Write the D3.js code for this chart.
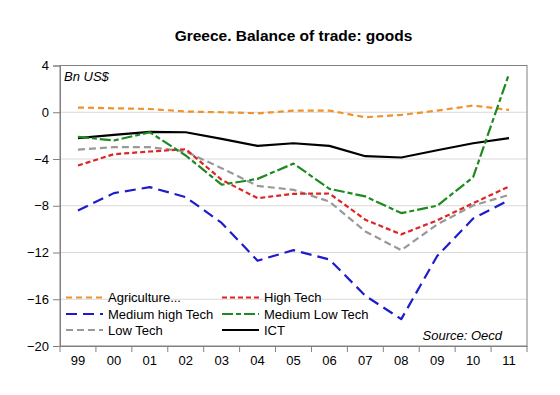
<!DOCTYPE html>
<html><head><meta charset="utf-8">
<script src="https://cdn.jsdelivr.net/npm/d3@7"></script>
<style>body{margin:0;background:#fff;}svg{display:block;font-family:Arial,"Liberation Sans",sans-serif;}</style>
</head><body>
<svg id="c" width="560" height="395"></svg>
<script>
const years = ["99","00","01","02","03","04","05","06","07","08","09","10","11"];
const yTicks = [4,0,-4,-8,-12,-16,-20];
const agriculture = [0.4,0.34,0.28,0.06,0.0,-0.09,0.14,0.14,-0.43,-0.23,0.14,0.57,0.2];
const highTech = [-4.56,-3.59,-3.36,-3.16,-5.78,-7.35,-6.98,-6.95,-9.2,-10.45,-9.25,-7.78,-6.35];
const mediumHighTech = [-8.4,-6.92,-6.41,-7.26,-9.47,-12.7,-11.8,-12.6,-15.7,-17.7,-12.3,-9.1,-7.52];
const mediumLowTech = [-2.1,-2.42,-1.71,-3.7,-6.2,-5.7,-4.39,-6.55,-7.2,-8.63,-8.0,-5.56,3.28];
const lowTech = [-3.19,-2.99,-2.99,-3.36,-4.79,-6.3,-6.64,-7.64,-10.2,-11.8,-9.6,-7.98,-7.07];
const ict = [-2.22,-1.94,-1.68,-1.71,-2.28,-2.88,-2.65,-2.88,-3.76,-3.87,-3.25,-2.65,-2.22];

const series = [
  {name:"Agriculture...", values:agriculture, color:"#f0922a", dash:"6,4", w:2.2},
  {name:"High Tech", values:highTech, color:"#e02424", dash:"5,3", w:2.2},
  {name:"Medium high Tech", values:mediumHighTech, color:"#1c1ccc", dash:"11,6", w:2.2},
  {name:"Medium Low Tech", values:mediumLowTech, color:"#1e8a1e", dash:"11,3,5,3", w:2.2},
  {name:"Low Tech", values:lowTech, color:"#999999", dash:"7,4", w:2.2},
  {name:"ICT", values:ict, color:"#000000", dash:null, w:2.2}
];

const svg = d3.select("#c");
const L=60, R=527, T=65.5, B=346;
const x = d3.scaleBand().domain(years).range([L,R]);
const y = d3.scaleLinear().domain([-20,4]).range([B,T]);

// title
svg.append("text").attr("x",(L+R)/2).attr("y",41).attr("text-anchor","middle")
  .attr("font-weight","bold").attr("font-size","15.5px").text("Greece. Balance of trade: goods");

// grid
svg.append("g").selectAll("line").data(yTicks.filter(d=>d>-20&&d<4)).join("line")
  .attr("x1",L).attr("x2",R).attr("y1",d=>y(d)).attr("y2",d=>y(d))
  .attr("stroke","#d9d9d9").attr("stroke-width",1);

// frame
svg.append("rect").attr("x",L).attr("y",T).attr("width",R-L).attr("height",B-T)
  .attr("fill","none").attr("stroke","#808080").attr("stroke-width",1);

// y axis
const ya = svg.append("g").attr("transform",`translate(${L},0)`)
  .call(d3.axisLeft(y).tickValues(yTicks).tickSize(7).tickPadding(4).tickFormat(d3.format("d")));
ya.select(".domain").attr("stroke","#808080");
ya.selectAll(".tick line").attr("stroke","#808080");
ya.selectAll("text").attr("font-size","13px").attr("fill","#000").attr("font-family","Arial,'Liberation Sans',sans-serif");

// x axis with ticks at band boundaries
const xa = svg.append("g").attr("transform",`translate(0,${B})`)
  .call(d3.axisBottom(x).tickSize(0).tickPadding(10));
xa.select(".domain").attr("stroke","#808080");
xa.selectAll("text").attr("font-size","13px").attr("fill","#000").attr("font-family","Arial,'Liberation Sans',sans-serif");
const bounds = years.map(d=>x(d)).concat([R]);
xa.selectAll(".bt").data(bounds).join("line").attr("class","bt")
  .attr("x1",d=>d).attr("x2",d=>d).attr("y1",0).attr("y2",6).attr("stroke","#808080");

// Bn US$
svg.append("text").attr("x",64).attr("y",81).attr("font-style","italic").attr("font-size","13px").text("Bn US$");

// lines
const line = d3.line().x((d,i)=>x(years[i])+x.bandwidth()/2).y(d=>y(d));
const order = ["Agriculture...","ICT","Low Tech","High Tech","Medium high Tech","Medium Low Tech"];
order.forEach(n=>{
  const s = series.find(z=>z.name===n);
  svg.append("path").datum(s.values).attr("d",line).attr("fill","none")
    .attr("stroke",s.color).attr("stroke-width",s.w)
    .attr("stroke-dasharray",s.dash).attr("stroke-linejoin","round");
});

// legend
const leg = [
  {s:"Agriculture...",c:0,r:0},{s:"High Tech",c:1,r:0},
  {s:"Medium high Tech",c:0,r:1},{s:"Medium Low Tech",c:1,r:1},
  {s:"Low Tech",c:0,r:2},{s:"ICT",c:1,r:2}
];
const colX=[66,222], rowY=[297.5,314,330];
leg.forEach(l=>{
  const s = series.find(z=>z.name===l.s);
  const x0=colX[l.c], yy=rowY[l.r];
  svg.append("line").attr("x1",x0).attr("x2",x0+37).attr("y1",yy).attr("y2",yy)
    .attr("stroke",s.color).attr("stroke-width",2.2).attr("stroke-dasharray",s.dash);
  svg.append("text").attr("x",x0+42).attr("y",yy+4.5).attr("font-size","13px").text(s.name);
});

svg.append("text").attr("x",502).attr("y",340).attr("text-anchor","end")
  .attr("font-style","italic").attr("font-size","13px").text("Source: Oecd");
</script>
</body></html>
